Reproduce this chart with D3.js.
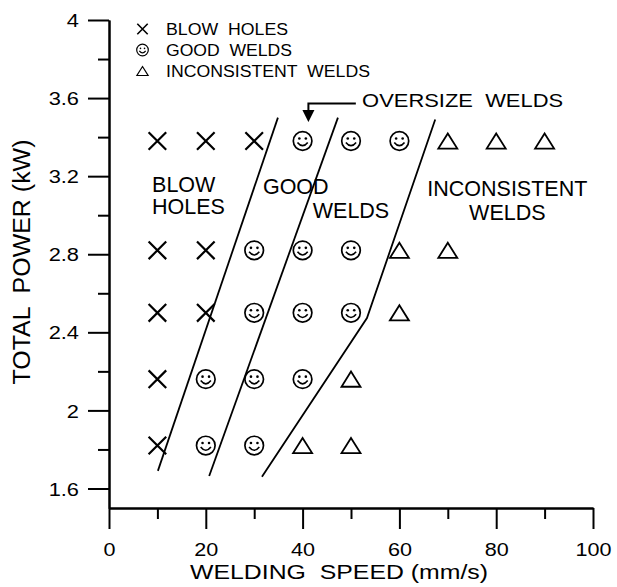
<!DOCTYPE html>
<html>
<head>
<meta charset="utf-8">
<script src="https://cdn.jsdelivr.net/npm/d3@7"></script>
<style>
  body { margin: 0; background: #fff; }
  text { font-family: "Liberation Sans", Arial, sans-serif; fill: #000; }
</style>
</head>
<body>
<script>
// welding trials, speed (mm/s) vs total power (kW)
const blowHoles = [[10,3.38],[20,3.38],[30,3.38],[10,2.82],[20,2.82],[10,2.50],[20,2.50],[10,2.16],[10,1.82]];
const goodWelds = [[40,3.38],[50,3.38],[60,3.38],[30,2.82],[40,2.82],[50,2.82],[30,2.50],[40,2.50],[50,2.50],
                   [20,2.16],[30,2.16],[40,2.16],[20,1.82],[30,1.82]];
const inconsistentWelds = [[70,3.38],[80,3.38],[90,3.38],[60,2.82],[70,2.82],[60,2.50],[50,2.16],[40,1.82],[50,1.82]];

// hand drawn boundaries between regimes
const boundaryBlow = [[10.1,1.69],[34.9,3.50]];
const boundaryGood = [[20.7,1.664],[47.3,3.50]];
const boundaryInconsistent = [[31.6,1.66],[53.3,2.473],[67.4,3.49]];

const xMajor = [0,20,40,60,80,100];
const xMinor = [10,30,50,70,90];
const yMajor = [1.6,2.0,2.4,2.8,3.2,3.6,4.0];
const yMinor = [1.8,2.2,2.6,3.0,3.4,3.8];
const yTickLabels = ["1.6","2","2.4","2.8","3.2","3.6","4"];

const width = 617, height = 587;

svg = d3.select('body').append('svg')
  .attr('width', width)
  .attr('height', height);

x = d3.scaleLinear().domain([0,100]).range([109,593]);
y = d3.scaleLinear().domain([1.5,4]).range([508,20]);

// axes
xAxis = svg.append('g').attr('transform', 'translate(0,508)')
  .call(d3.axisBottom(x).tickValues(xMajor).tickSize(21).tickSizeOuter(0).tickFormat(d => d));
svg.append('g').attr('transform', 'translate(0,508)')
  .call(d3.axisBottom(x).tickValues(xMinor).tickSize(11).tickSizeOuter(0).tickFormat(''));
yAxis = svg.append('g').attr('transform', 'translate(109,0)')
  .call(d3.axisLeft(y).tickValues(yMajor).tickSize(21).tickSizeOuter(0).tickFormat((d,i) => yTickLabels[i]));
svg.append('g').attr('transform', 'translate(109,0)')
  .call(d3.axisLeft(y).tickValues(yMinor).tickSize(11).tickSizeOuter(0).tickFormat(''));

svg.selectAll('.domain, .tick line').attr('stroke', '#000').attr('stroke-width', 2);

xAxis.selectAll('.tick text')
  .attr('y', null).attr('dy', null)
  .attr('transform', 'translate(0,47.5) scale(1.2,1)')
  .style('font-size', '18px');
yAxis.selectAll('.tick text')
  .attr('x', null)
  .attr('dy', '0.36em')
  .attr('transform', 'translate(-30,0) scale(1.18,1)')
  .style('font-size', '18.5px');

svg.append('text')
  .attr('x', 339).attr('y', 579)
  .attr('text-anchor', 'middle')
  .attr('textLength', 298).attr('lengthAdjust', 'spacingAndGlyphs')
  .style('font-size', '20px')
  .style('white-space', 'pre')
  .text('WELDING  SPEED (mm/s)');

svg.append('text')
  .attr('transform', 'translate(30,262) rotate(-90)')
  .attr('text-anchor', 'middle')
  .attr('textLength', 245).attr('lengthAdjust', 'spacingAndGlyphs')
  .style('font-size', '23px')
  .style('white-space', 'pre')
  .text('TOTAL  POWER (kW)');

// boundary lines
line = d3.line().x(d => x(d[0])).y(d => y(d[1]));
[boundaryBlow, boundaryGood, boundaryInconsistent].forEach(b => {
  svg.append('path').attr('d', line(b))
    .attr('fill', 'none').attr('stroke', '#000').attr('stroke-width', 1.8);
});

// marker shapes
function drawCross(g, s, w) {
  g.append('path').attr('d', `M${-s},${-s}L${s},${s}M${-s},${s}L${s},${-s}`)
    .attr('stroke', '#000').attr('stroke-width', w).attr('fill', 'none');
}
function drawSmiley(g, r, w) {
  g.append('circle').attr('r', r).attr('fill', 'none').attr('stroke', '#000').attr('stroke-width', w);
  g.append('circle').attr('cx', -r*0.35).attr('cy', -r*0.27).attr('r', r*0.14).attr('fill', '#000');
  g.append('circle').attr('cx', r*0.35).attr('cy', -r*0.27).attr('r', r*0.14).attr('fill', '#000');
  g.append('path').attr('d', `M${-r*0.55},${r*0.15}Q0,${r*0.85} ${r*0.55},${r*0.15}`)
    .attr('fill', 'none').attr('stroke', '#000').attr('stroke-width', w*0.95);
}
function drawTriangle(g, s, w) {
  g.append('path').attr('d', `M0,${-s*0.8}L${s},${s*0.8}L${-s},${s*0.8}Z`)
    .attr('fill', 'none').attr('stroke', '#000').attr('stroke-width', w);
}

svg.selectAll('.blow').data(blowHoles).join('g')
  .attr('class', 'blow')
  .attr('transform', d => `translate(${x(d[0])},${y(d[1])})`)
  .each(function() { drawCross(d3.select(this), 8.8, 2.2); });

svg.selectAll('.good').data(goodWelds).join('g')
  .attr('class', 'good')
  .attr('transform', d => `translate(${x(d[0])},${y(d[1])})`)
  .each(function() { drawSmiley(d3.select(this), 9.3, 1.7); });

svg.selectAll('.incons').data(inconsistentWelds).join('g')
  .attr('class', 'incons')
  .attr('transform', d => `translate(${x(d[0])},${y(d[1])})`)
  .each(function() { drawTriangle(d3.select(this), 9.5, 1.8); });

// legend
const legendItems = [
  {label: 'BLOW  HOLES', len: 122, draw: g => drawCross(g, 5.2, 1.6)},
  {label: 'GOOD  WELDS', len: 126, draw: g => drawSmiley(g, 5.8, 1.2)},
  {label: 'INCONSISTENT  WELDS', len: 204, draw: g => drawTriangle(g, 5.6, 1.2)}
];
legendItems.forEach((item, i) => {
  const cy = 29 + i * 21;
  const g = svg.append('g').attr('transform', `translate(142.5,${cy})`);
  item.draw(g);
  svg.append('text')
    .attr('x', 166).attr('y', cy + 5.7)
    .attr('textLength', item.len).attr('lengthAdjust', 'spacingAndGlyphs')
    .style('font-size', '16px')
    .style('white-space', 'pre')
    .text(item.label);
});

// region labels
const regionLabels = [
  {text: 'BLOW', x: 8.9, y: 3.119, anchor: 'start'},
  {text: 'HOLES', x: 8.9, y: 3.006, anchor: 'start'},
  {text: 'GOOD', x: 31.8, y: 3.109, anchor: 'start'},
  {text: 'WELDS', x: 42.1, y: 2.986, anchor: 'start'},
  {text: 'INCONSISTENT', x: 82.3, y: 3.099, anchor: 'middle'},
  {text: 'WELDS', x: 82.3, y: 2.975, anchor: 'middle'}
];
svg.selectAll('.region').data(regionLabels).join('text')
  .attr('class', 'region')
  .attr('x', d => x(d.x)).attr('y', d => y(d.y))
  .attr('text-anchor', d => d.anchor)
  .style('font-size', '21.5px')
  .text(d => d.text);

// oversize annotation
const arrowStart = [51.0, 3.572], arrowCorner = [41.2, 3.572], arrowTip = [41.2, 3.477];
svg.append('path')
  .attr('d', `M${x(arrowStart[0])},${y(arrowStart[1])}L${x(arrowCorner[0])},${y(arrowCorner[1])}L${x(arrowCorner[0])},${y(arrowTip[1]) - 10}`)
  .attr('fill', 'none').attr('stroke', '#000').attr('stroke-width', 2);
svg.append('path')
  .attr('d', `M${x(arrowTip[0]) - 6},${y(arrowTip[1]) - 12}L${x(arrowTip[0]) + 6},${y(arrowTip[1]) - 12}L${x(arrowTip[0])},${y(arrowTip[1])}Z`)
  .attr('fill', '#000');
svg.append('text')
  .attr('x', x(52.3)).attr('y', y(3.556))
  .attr('textLength', 201).attr('lengthAdjust', 'spacingAndGlyphs')
  .style('font-size', '18.5px')
  .style('white-space', 'pre')
  .text('OVERSIZE  WELDS');
</script>
</body>
</html>
